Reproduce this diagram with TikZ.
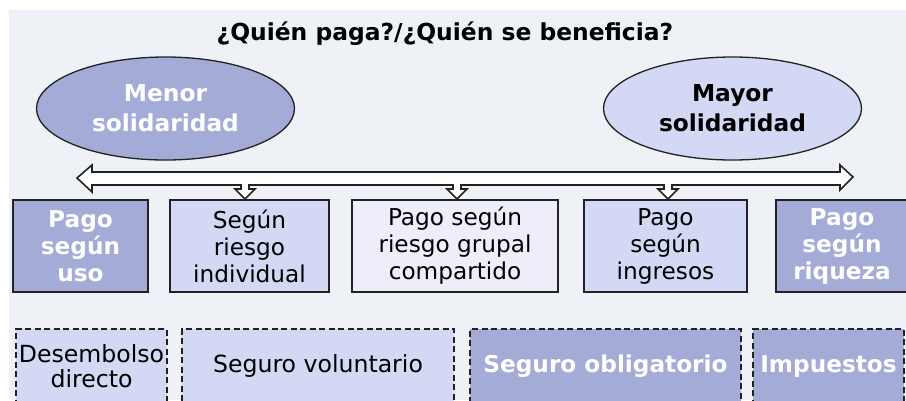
\documentclass[tikz,border=0pt]{standalone}
\usepackage{fontspec}
\setmainfont{DejaVu Sans}
\usetikzlibrary{shapes.geometric}
\definecolor{bgc}{HTML}{EEF2F7}
\definecolor{darkfill}{HTML}{A3ABD6}
\definecolor{lightfill}{HTML}{D3D9F5}
\definecolor{palefill}{HTML}{EEEEFB}
\definecolor{edgec}{HTML}{222222}
\begin{document}
\begin{tikzpicture}[x=1pt,y=-1pt,
  boxbase/.style={rectangle, draw=edgec, line width=1.6pt, inner sep=0pt, align=center,
    minimum height=92pt, font=\fontsize{23.2}{27}\selectfont},
  darkbox/.style={boxbase, fill=darkfill, text=white, font=\fontsize{23.2}{27}\selectfont\bfseries},
  lightbox/.style={boxbase, fill=lightfill},
  palebox/.style={boxbase, fill=palefill},
  dashbase/.style={rectangle, draw=edgec, line width=1.4pt, dash pattern=on 6pt off 3.5pt,
    inner sep=0pt, align=center, minimum height=74pt, font=\fontsize{23.6}{25}\selectfont},
  dashlight/.style={dashbase, fill=lightfill},
  dashdark/.style={dashbase, fill=darkfill, text=white, font=\fontsize{23.2}{25}\selectfont\bfseries},
  ellbase/.style={ellipse, draw=edgec, line width=1.3pt, inner sep=0pt, align=center,
    minimum width=258pt, minimum height=103pt, font=\fontsize{23.3}{30}\selectfont\bfseries},
  arrowshape/.style={draw=edgec, line width=1.6pt, fill=white, line join=miter}
]
\useasboundingbox (0,0) rectangle (906,400);
\clip (0,0) rectangle (906,400);
\fill[white] (0,0) rectangle (906,400);
\fill[bgc] (9,10) rectangle (906,400);

% title
\node (title) [anchor=base, font=\fontsize{23.4}{27}\selectfont\bfseries] at (445,40)
  {¿Quién paga?/¿Quién se beneficia?};

% ellipses
\node (menor) [ellbase, fill=darkfill, text=white] at (165.5,108.5) {Menor\\solidaridad};
\node (mayor) [ellbase, fill=lightfill] at (732.5,108.5) {Mayor\\solidaridad};

% double arrow with notches
\draw[arrowshape]
  (77,178) -- (92,165) -- (92,172) -- (840,172) -- (840,165) -- (853,177) -- (840,190) -- (840,185)
  -- (672,185) -- (672,189) -- (678,189) -- (668,199) -- (658,189) -- (664,189) -- (664,185)
  -- (461,185) -- (461,189) -- (467,189) -- (457,199) -- (447,189) -- (453,189) -- (453,185)
  -- (249,185) -- (249,189) -- (255,189) -- (245,199) -- (235,189) -- (241,189) -- (241,185)
  -- (92,185) -- (92,192) -- cycle;

% first row of boxes
\node (b1) [darkbox, minimum width=135pt] at (80.5,246) {Pago\\según\\uso};
\node (b2) [lightbox, minimum width=159pt] at (249.5,246) {Según\\riesgo\\individual};
\node (b3) [palebox, minimum width=206pt] at (455,246) {Pago según\\riesgo grupal\\compartido};
\node (b4) [lightbox, minimum width=163pt] at (665.5,246) {Pago\\según\\ingresos};
\node (b5) [darkbox, minimum width=132pt] at (842,246) {Pago\\según\\riqueza};

% second row of dashed boxes
\node (d1) [dashlight, minimum width=151pt] at (91.5,366) {Desembolso\\directo};
\node (d2) [dashlight, minimum width=272pt] at (318,366) {Seguro voluntario};
\node (d3) [dashdark, minimum width=271pt] at (605.5,366) {Seguro obligatorio};
\node (d4) [dashdark, minimum width=151pt] at (828.5,366) {Impuestos};
\end{tikzpicture}
\end{document}
